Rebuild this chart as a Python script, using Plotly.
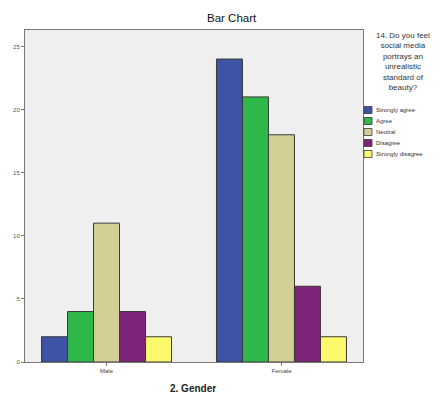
import plotly.graph_objects as go

genders = ["Male", "Female"]
responses = ["Strongly agree", "Agree", "Neutral", "Disagree", "Strongly disagree"]
counts = {
    "Strongly agree": [2, 24],
    "Agree": [4, 21],
    "Neutral": [11, 18],
    "Disagree": [4, 6],
    "Strongly disagree": [2, 2],
}
colors = ["#3e53a4", "#2fb74a", "#d3cf95", "#7e2379", "#fbf86b"]
y_ticks = [0, 5, 10, 15, 20, 25]

FONT = "Liberation Sans, Arial, sans-serif"
W, H = 442, 396
L, R, T, B = 25, 79, 30, 34

fig = go.Figure()
for name, col in zip(responses, colors):
    fig.add_trace(go.Bar(
        x=genders, y=counts[name], name=name,
        marker=dict(color=col, line=dict(color="#3a3a3a", width=1)),
        showlegend=False,
    ))

fig.update_layout(
    width=W, height=H,
    margin=dict(l=L, r=R, t=T, b=B, pad=0),
    paper_bgcolor="white", plot_bgcolor="#efefef",
    barmode="group", bargap=0.257, bargroupgap=0,
    font=dict(family=FONT, color="#333"),
    xaxis=dict(
        range=[-0.466, 1.466], showgrid=False, zeroline=False,
        showline=True, linecolor="#777", linewidth=1, mirror=True,
        ticks="outside", ticklen=3, tickcolor="#777",
        tickfont=dict(size=6, color="#444"),
    ),
    yaxis=dict(
        range=[0, 26.3], tickvals=y_ticks, showgrid=False, zeroline=False,
        showline=True, linecolor="#777", linewidth=1, mirror=True,
        ticks="outside", ticklen=3, tickcolor="#777",
        tickfont=dict(size=6, color="#555"),
    ),
)

pw = W - L - R
ph = H - T - B


def px_x(x):
    return (x - L) / pw


def px_y(y):
    return 1 - (y - T) / ph


# chart title and axis title
fig.add_annotation(text="Bar Chart", x=px_x(232), y=px_y(18), xref="paper", yref="paper",
                   showarrow=False, font=dict(size=11.5, color="#111", family=FONT),
                   xanchor="center", yanchor="middle")
fig.add_annotation(text="<b>2. Gender</b>", x=px_x(193), y=px_y(388), xref="paper", yref="paper",
                   showarrow=False, font=dict(size=10, color="#222", family=FONT),
                   xanchor="center", yanchor="middle")

# legend title
fig.add_annotation(
    text="14. Do you feel<br>social media<br>portrays an<br>unrealistic<br>standard of<br>beauty?",
    x=px_x(403), y=px_y(29), xref="paper", yref="paper", showarrow=False,
    xanchor="center", yanchor="top", align="center",
    font=dict(size=8, color="#333", family=FONT),
)

# legend entries
for i, (name, col) in enumerate(zip(responses, colors)):
    yc = 110 + i * 11
    fig.add_shape(type="rect", xref="paper", yref="paper",
                  x0=px_x(364), x1=px_x(372), y0=px_y(yc - 3.5), y1=px_y(yc + 3.5),
                  fillcolor=col, line=dict(color="#3a3a3a", width=0.8))
    fig.add_annotation(text=name, x=px_x(374), y=px_y(yc), xref="paper", yref="paper",
                       showarrow=False, xanchor="left", yanchor="middle",
                       font=dict(size=6, color="#333", family=FONT))

fig.write_html("out.html")
